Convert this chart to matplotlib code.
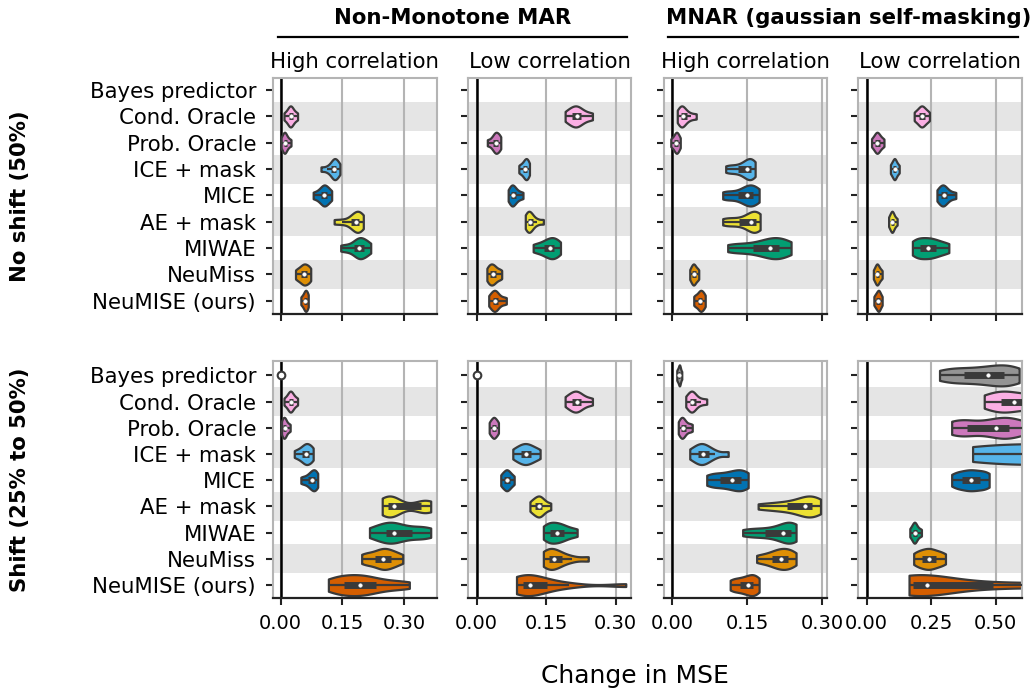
import numpy as np
import matplotlib
matplotlib.use("Agg")
import matplotlib.pyplot as plt
from matplotlib.lines import Line2D

# ---------------- data ----------------
methods = ["Bayes predictor", "Cond. Oracle", "Prob. Oracle", "ICE + mask", "MICE",
           "AE + mask", "MIWAE", "NeuMiss", "NeuMISE (ours)"]
colors = ["#949494", "#fbafe4", "#cc78bc", "#56b4e9", "#0173b2",
          "#ece133", "#029e73", "#de8f05", "#d55e00"]

group_titles = ["Non-Monotone MAR", "MNAR (gaussian self-masking)"]
col_titles = ["High correlation", "Low correlation", "High correlation", "Low correlation"]
row_titles = ["No shift (50%)", "Shift (25% to 50%)"]
x_label = "Change in MSE"
ticks_a = [0.0, 0.15, 0.30]
ticklabels_a = ["0.00", "0.15", "0.30"]
ticks_b = [0.0, 0.25, 0.50]
ticklabels_b = ["0.00", "0.25", "0.50"]

# No shift (50%) -- Non-Monotone MAR, high correlation
nm_high_noshift = [
    [],
    [0.008, 0.015, 0.019, 0.022, 0.024, 0.026, 0.029, 0.034, 0.041],
    [0.001, 0.004, 0.007, 0.009, 0.010, 0.012, 0.015, 0.019, 0.025],
    [0.098, 0.112, 0.121, 0.126, 0.129, 0.130, 0.133, 0.136, 0.139, 0.144],
    [0.079, 0.090, 0.097, 0.102, 0.105, 0.108, 0.112, 0.117, 0.124],
    [0.130, 0.150, 0.168, 0.176, 0.181, 0.185, 0.188, 0.192, 0.196, 0.201],
    [0.146, 0.162, 0.177, 0.184, 0.189, 0.193, 0.198, 0.203, 0.210, 0.219],
    [0.036, 0.043, 0.049, 0.053, 0.057, 0.060, 0.064, 0.069, 0.073],
    [0.049, 0.053, 0.056, 0.058, 0.060, 0.061, 0.063, 0.065, 0.067],
]
# No shift -- Non-Monotone MAR, low correlation
nm_low_noshift = [
    [],
    [0.191, 0.200, 0.206, 0.211, 0.216, 0.220, 0.226, 0.236, 0.250],
    [0.023, 0.031, 0.036, 0.039, 0.041, 0.043, 0.046, 0.049, 0.052],
    [0.091, 0.096, 0.100, 0.103, 0.105, 0.107, 0.109, 0.111, 0.114],
    [0.068, 0.072, 0.075, 0.077, 0.079, 0.082, 0.086, 0.092, 0.100],
    [0.105, 0.108, 0.111, 0.113, 0.115, 0.118, 0.122, 0.131, 0.144],
    [0.122, 0.135, 0.145, 0.152, 0.158, 0.163, 0.168, 0.174, 0.181],
    [0.022, 0.026, 0.029, 0.032, 0.035, 0.038, 0.042, 0.048, 0.054],
    [0.026, 0.031, 0.035, 0.038, 0.040, 0.043, 0.047, 0.055, 0.064],
]
# No shift -- MNAR, high correlation
mnar_high_noshift = [
    [],
    [0.010, 0.014, 0.017, 0.019, 0.021, 0.024, 0.029, 0.037, 0.048],
    [-0.003, 0.001, 0.004, 0.006, 0.008, 0.009, 0.011, 0.013, 0.016],
    [0.107, 0.118, 0.130, 0.140, 0.147, 0.152, 0.155, 0.158, 0.162, 0.166],
    [0.101, 0.113, 0.128, 0.140, 0.148, 0.152, 0.157, 0.162, 0.168, 0.174],
    [0.101, 0.115, 0.130, 0.145, 0.154, 0.160, 0.164, 0.168, 0.172, 0.176],
    [0.111, 0.130, 0.152, 0.170, 0.185, 0.195, 0.202, 0.210, 0.218, 0.228, 0.238],
    [0.035, 0.038, 0.040, 0.042, 0.043, 0.045, 0.047, 0.050, 0.053],
    [0.043, 0.047, 0.051, 0.054, 0.056, 0.058, 0.060, 0.063, 0.066],
]
# No shift -- MNAR, low correlation
mnar_low_noshift = [
    [],
    [0.184, 0.195, 0.203, 0.209, 0.213, 0.218, 0.224, 0.232, 0.243],
    [0.019, 0.028, 0.034, 0.038, 0.041, 0.045, 0.050, 0.057, 0.067],
    [0.092, 0.098, 0.102, 0.106, 0.108, 0.110, 0.114, 0.119, 0.126],
    [0.272, 0.281, 0.288, 0.294, 0.298, 0.304, 0.312, 0.326, 0.345],
    [0.085, 0.090, 0.094, 0.097, 0.099, 0.101, 0.105, 0.110, 0.118],
    [0.177, 0.192, 0.206, 0.222, 0.238, 0.252, 0.268, 0.290, 0.318],
    [0.026, 0.032, 0.036, 0.039, 0.041, 0.044, 0.048, 0.053, 0.060],
    [0.028, 0.034, 0.038, 0.042, 0.045, 0.047, 0.050, 0.054, 0.060],
]
# Shift (25% to 50%) -- Non-Monotone MAR, high correlation
nm_high_shift = [
    [0.0],
    [0.008, 0.015, 0.019, 0.022, 0.024, 0.026, 0.029, 0.034, 0.041],
    [0.002, 0.004, 0.006, 0.008, 0.010, 0.011, 0.014, 0.018, 0.023],
    [0.033, 0.043, 0.050, 0.055, 0.060, 0.062, 0.066, 0.070, 0.075, 0.079],
    [0.049, 0.058, 0.066, 0.071, 0.075, 0.078, 0.081, 0.084, 0.087, 0.090],
    [0.247, 0.252, 0.258, 0.265, 0.272, 0.276, 0.285, 0.335, 0.348, 0.357, 0.365],
    [0.216, 0.235, 0.250, 0.262, 0.270, 0.276, 0.290, 0.310, 0.330, 0.350, 0.365],
    [0.197, 0.210, 0.225, 0.238, 0.246, 0.252, 0.260, 0.270, 0.280, 0.297],
    [0.116, 0.130, 0.145, 0.158, 0.172, 0.187, 0.198, 0.210, 0.225, 0.250, 0.280, 0.313],
]
# Shift -- Non-Monotone MAR, low correlation
nm_low_shift = [
    [0.0],
    [0.191, 0.200, 0.206, 0.211, 0.216, 0.220, 0.226, 0.236, 0.250],
    [0.027, 0.030, 0.033, 0.035, 0.037, 0.039, 0.041, 0.044, 0.047],
    [0.078, 0.088, 0.095, 0.101, 0.106, 0.112, 0.118, 0.126, 0.137],
    [0.052, 0.056, 0.060, 0.063, 0.065, 0.068, 0.071, 0.075, 0.081],
    [0.115, 0.122, 0.127, 0.131, 0.135, 0.138, 0.142, 0.149, 0.160],
    [0.144, 0.152, 0.159, 0.165, 0.173, 0.180, 0.188, 0.200, 0.217],
    [0.144, 0.150, 0.156, 0.161, 0.168, 0.175, 0.185, 0.205, 0.241],
    [0.086, 0.092, 0.098, 0.104, 0.110, 0.115, 0.125, 0.140, 0.165, 0.200, 0.322],
]
# Shift -- MNAR, high correlation
mnar_high_shift = [
    [0.009, 0.011, 0.013, 0.014, 0.015, 0.016, 0.019],
    [0.027, 0.032, 0.036, 0.039, 0.040, 0.043, 0.048, 0.057, 0.069],
    [0.012, 0.015, 0.018, 0.020, 0.021, 0.024, 0.028, 0.034, 0.040],
    [0.035, 0.045, 0.052, 0.057, 0.061, 0.066, 0.073, 0.085, 0.112],
    [0.069, 0.082, 0.095, 0.108, 0.120, 0.128, 0.137, 0.145, 0.152],
    [0.172, 0.200, 0.220, 0.238, 0.252, 0.265, 0.270, 0.276, 0.283, 0.290, 0.297],
    [0.141, 0.160, 0.178, 0.195, 0.210, 0.222, 0.230, 0.235, 0.240, 0.244, 0.248],
    [0.169, 0.185, 0.198, 0.206, 0.214, 0.220, 0.226, 0.233, 0.240, 0.248],
    [0.116, 0.125, 0.135, 0.143, 0.151, 0.157, 0.162, 0.168, 0.174],
]
# Shift -- MNAR, low correlation
mnar_low_shift = [
    [0.282, 0.320, 0.355, 0.395, 0.430, 0.468, 0.495, 0.520, 0.545, 0.570, 0.590],
    [0.455, 0.490, 0.520, 0.545, 0.570, 0.620, 0.660, 0.700, 0.750],
    [0.329, 0.350, 0.370, 0.410, 0.460, 0.502, 0.520, 0.540, 0.560, 0.590, 0.640],
    [0.410, 0.550, 0.700, 0.850, 1.000, 1.150, 1.300],
    [0.329, 0.350, 0.370, 0.390, 0.404, 0.420, 0.440, 0.460, 0.474],
    [0.700, 0.800, 0.900, 1.000, 1.100],
    [0.167, 0.175, 0.180, 0.184, 0.186, 0.189, 0.194, 0.202, 0.212],
    [0.182, 0.200, 0.215, 0.230, 0.241, 0.252, 0.268, 0.285, 0.305],
    [0.164, 0.165, 0.167, 0.170, 0.174, 0.180, 0.188, 0.197, 0.205, 0.220,
     0.250, 0.290, 0.340, 0.400, 0.470, 0.550, 0.650, 0.750, 0.850, 0.950],
]

panels = [[nm_high_noshift, nm_low_noshift, mnar_high_noshift, mnar_low_noshift],
          [nm_high_shift, nm_low_shift, mnar_high_shift, mnar_low_shift]]

# ---------------- layout / style ----------------
W, H = 1034, 691
col_px = [(272.7, 436.7), (468.3, 631.0), (664.0, 826.7), (858.3, 1021.7)]
row_px = [(77.7, 314.0), (360.7, 597.7)]
ylims = [(8.5, -0.47), (8.48, -0.56)]
xlims = [(-0.0195, 0.3796), (-0.0181, 0.3333), (-0.0166, 0.3094), (-0.0323, 0.600)]
EDGE = "#3a3a3a"
GRID = "#b4b4b4"
STRIPE = "#e5e5e5"
FS = 15.3
BW = 0.5                       # KDE bandwidth factor
BW_ABS = {(1, 3, 8): 0.12}     # absolute bandwidth for the long-tailed violin


def fx(px):
    return px / W


def fy(py):
    return 1 - py / H


def draw_violin(ax, vals, pos, color, bw):
    vals = np.asarray(vals, dtype=float)
    if vals.size == 0:
        return
    if np.ptp(vals) == 0:
        ax.plot([vals[0]], [pos], marker="o", ms=5.5, mfc="white", mec=EDGE,
                mew=1.5, ls="none", zorder=5, clip_on=False)
        return
    try:
        parts = ax.violinplot([vals], positions=[pos], orientation="horizontal",
                              widths=0.8, showextrema=False, bw_method=bw)
    except TypeError:
        parts = ax.violinplot([vals], positions=[pos], vert=False,
                              widths=0.8, showextrema=False, bw_method=bw)
    for b in parts["bodies"]:
        b.set_facecolor(color)
        b.set_edgecolor(EDGE)
        b.set_alpha(1)
        b.set_linewidth(1.6)
        b.set_zorder(2)
    q1, med, q3 = np.percentile(vals, [25, 50, 75])
    iqr = q3 - q1
    lo = vals[vals >= q1 - 1.5 * iqr].min()
    hi = vals[vals <= q3 + 1.5 * iqr].max()
    ax.plot([lo, hi], [pos, pos], color=EDGE, lw=1.6, solid_capstyle="butt", zorder=3)
    ax.plot([q1, q3], [pos, pos], color=EDGE, lw=5.0, solid_capstyle="butt", zorder=3)
    ax.plot([med], [pos], marker="o", ms=2.6, mfc="white", mec="white", mew=0.3,
            ls="none", zorder=4)


fig = plt.figure(figsize=(W / 100, H / 100), dpi=100)
plt.rcParams["font.family"] = "DejaVu Sans"

for r in range(2):
    t, b = row_px[r]
    for c in range(4):
        l, rr = col_px[c]
        ax = fig.add_axes([fx(l), fy(b), (rr - l) / W, (b - t) / H])
        ax.set_axisbelow(True)
        for i in range(1, len(methods), 2):
            ax.axhspan(i - 0.55, i + 0.55, color=STRIPE, lw=0, zorder=0)
        ax.axvline(0, color="black", lw=1.8, zorder=1)
        data = panels[r][c]
        for i, vals in enumerate(data):
            bw = BW
            if (r, c, i) in BW_ABS:
                bw = BW_ABS[(r, c, i)] / np.std(vals, ddof=1)
            draw_violin(ax, vals, i, colors[i], bw)
        ax.set_xlim(*xlims[c])
        ax.set_ylim(*ylims[r])
        if c < 3:
            ax.set_xticks(ticks_a)
            ax.set_xticklabels(ticklabels_a)
        else:
            ax.set_xticks(ticks_b)
            ax.set_xticklabels(ticklabels_b)
        ax.set_yticks(range(len(methods)))
        if c == 0:
            ax.set_yticklabels(methods, fontsize=FS)
        else:
            ax.set_yticklabels([])
        ax.grid(axis="x", color=GRID, lw=1.5)
        ax.grid(axis="y", visible=False)
        for s in ["top", "right", "left"]:
            ax.spines[s].set_color(GRID)
            ax.spines[s].set_linewidth(1.5)
        ax.spines["bottom"].set_color("#222222")
        ax.spines["bottom"].set_linewidth(1.6)
        ax.tick_params(axis="y", length=5, width=1.5, color="#222222", pad=7)
        ax.tick_params(axis="x", length=5, width=1.5, color="#222222", pad=7,
                       labelsize=14, labelbottom=(r == 1))
        if r == 0:
            fig.text(fx((l + rr) / 2), fy(67.7), col_titles[c], ha="center",
                     va="baseline", fontsize=FS)

# group headers with underline
fig.text(fx(452.5), fy(24), group_titles[0], ha="center", va="baseline",
         fontsize=FS, fontweight="bold")
fig.text(fx(848.3), fy(24), group_titles[1], ha="center", va="baseline",
         fontsize=FS, fontweight="bold")
fig.add_artist(Line2D([fx(278.3), fx(626.7)], [fy(37.3), fy(37.3)], color="black", lw=1.6))
fig.add_artist(Line2D([fx(668.3), fx(1018.3)], [fy(37.3), fy(37.3)], color="black", lw=1.6))

# row labels
fig.text(fx(20), fy(196), row_titles[0], rotation=90, ha="center", va="center",
         fontsize=FS, fontweight="bold")
fig.text(fx(20), fy(480), row_titles[1], rotation=90, ha="center", va="center",
         fontsize=FS, fontweight="bold")

fig.text(fx(635), fy(676), x_label, ha="center", va="center", fontsize=18)

fig.savefig("out.png", dpi=100)
